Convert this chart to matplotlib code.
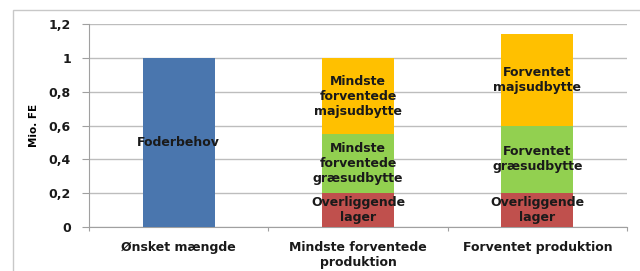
import matplotlib.pyplot as plt
import numpy as np
from matplotlib.patches import Rectangle

categories = ['Ønsket mængde', 'Mindste forventede\nproduktion', 'Forventet produktion']
foderbehov = [1.0, 0, 0]
lager = [0, 0.20, 0.20]
graes = [0, 0.35, 0.40]
majs = [0, 0.45, 0.54]

seg_labels = {
    0: [('Foderbehov', foderbehov)],
    1: [('Overliggende\nlager', lager),
        ('Mindste\nforventede\ngræsudbytte', graes),
        ('Mindste\nforventede\nmajsudbytte', majs)],
    2: [('Overliggende\nlager', lager),
        ('Forventet\ngræsudbytte', graes),
        ('Forventet\nmajsudbytte', majs)],
}

plt.rcParams.update({
    'font.family': ['DejaVu Sans'],
    'font.weight': 'bold',
    'font.size': 9,
})

fig = plt.figure(figsize=(6.4, 2.71), dpi=100)
fig.patches.append(Rectangle((13 / 640, -0.1), 1.0, 1 - 10 / 271 + 0.1,
                             transform=fig.transFigure, fill=False,
                             edgecolor='#C8C8C8', linewidth=1.0))
ax = fig.add_axes([89 / 640, 1 - 227 / 271, (627 - 89) / 640, (227 - 24.3) / 271])

x = np.arange(len(categories))
w = 0.4
ax.bar(x, foderbehov, w, color='#4A76AE', zorder=3)
ax.bar(x, lager, w, color='#C0504D', zorder=3)
ax.bar(x, graes, w, bottom=lager, color='#92D050', zorder=3)
ax.bar(x, majs, w, bottom=np.add(lager, graes), color='#FFC000', zorder=3)

for i, segs in seg_labels.items():
    base = 0
    for lbl, vals in segs:
        v = vals[i]
        ax.text(i, base + v / 2, lbl, ha='center', va='center',
                fontsize=9, fontweight='bold', color='#1a1a1a', zorder=4,
                linespacing=1.2)
        base += v

ax.set_xlim(-0.5, 2.5)
ax.set_ylim(0, 1.2)
yt = [0, 0.2, 0.4, 0.6, 0.8, 1.0, 1.2]
ax.set_yticks(yt)
ax.set_yticklabels(['0', '0,2', '0,4', '0,6', '0,8', '1', '1,2'])
ax.yaxis.grid(True, color='#BDBDBD', linewidth=1.0, zorder=0)
ax.set_xticks([-0.5, 0.5, 1.5, 2.5])
ax.set_xticklabels([])
ax.set_xticks(x, minor=True)
ax.set_xticklabels(categories, minor=True, linespacing=1.2)
ax.tick_params(axis='x', which='minor', length=0, pad=10)
ax.tick_params(axis='x', which='major', length=3, color='#A0A0A0')
ax.tick_params(axis='y', length=5, color='#A0A0A0', pad=8)
for lab in ax.get_xticklabels(minor=True) + ax.get_yticklabels():
    lab.set_fontweight('bold')
    lab.set_color('#1a1a1a')

for s in ['top', 'right']:
    ax.spines[s].set_visible(False)
for s in ['left', 'bottom']:
    ax.spines[s].set_color('#A0A0A0')

ax.set_ylabel('Mio. FE', fontweight='bold', fontsize=7.5, labelpad=7)

fig.savefig('out.png', dpi=100)
